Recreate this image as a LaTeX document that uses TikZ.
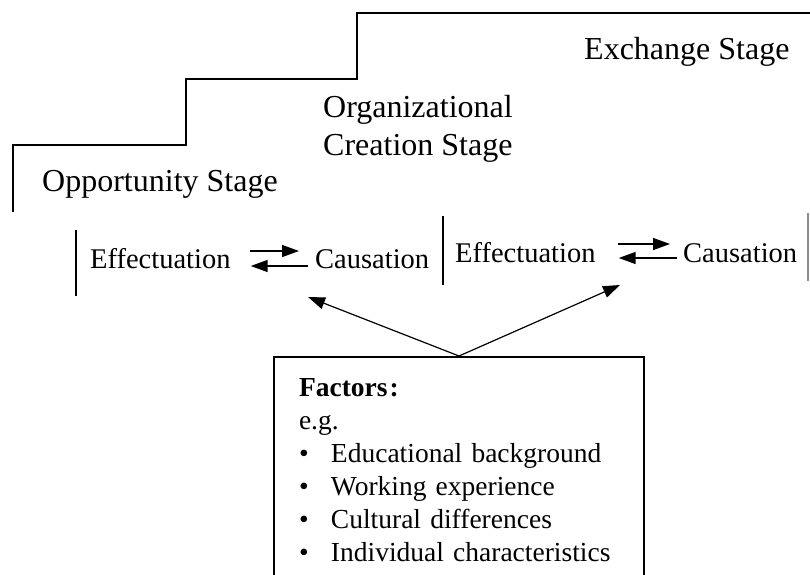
\documentclass[tikz,border=0pt]{standalone}
\usepackage{fontspec}
\setmainfont{Liberation Serif}
\usetikzlibrary{arrows.meta}

\begin{document}
\begin{tikzpicture}[x=1pt, y=-1pt, >={Triangle[length=17pt, width=12pt]},
  stagetext/.style={inner sep=0pt, align=left,
    font=\fontsize{32}{38}\selectfont},
  rowtext/.style={inner sep=0pt, anchor=base west,
    font=\fontsize{28.5}{34}\selectfont},
  swap/.style={->, line width=1.5pt},
  push/.style={->, line width=1.2pt}]
  \useasboundingbox (0,0) rectangle (810,574);
  % Staircase of stages
  \draw[line width=2.5pt] (13,212) -- (13,145) -- (186,145) -- (186,79)
    -- (357,79) -- (357,13) -- (812,13);
  \node[stagetext, anchor=base west] (opp) at (42,191) {Opportunity Stage};
  \node[stagetext, anchor=north west] (org) at (323,95)
    {Organizational\\Creation Stage};
  \node[stagetext, anchor=base west] (exc) at (584,59) {Exchange Stage};
  % Separators
  \draw[line width=2pt] (76,230) -- (76,296);
  \draw[line width=2pt] (443,216) -- (443,285);
  \draw[line width=1.5pt, black!45] (808,213) -- (808,281);
  % Effectuation / causation pairs
  \node[rowtext] (eff1) at (90,268) {Effectuation};
  \node[rowtext] (cau1) at (315,268) {Causation};
  \node[rowtext] (eff2) at (455,262) {Effectuation};
  \node[rowtext] (cau2) at (683,262) {Causation};
  \draw[swap, shorten <=19pt, shorten >=16pt]
    ([yshift=17pt]eff1.base east) -- ([yshift=17pt]cau1.base west);
  \draw[swap, shorten <=7pt, shorten >=20pt]
    ([yshift=2pt]cau1.base west) -- ([yshift=2pt]eff1.base east);
  \draw[swap, shorten <=22pt, shorten >=13pt]
    ([yshift=18pt]eff2.base east) -- ([yshift=18pt]cau2.base west);
  \draw[swap, shorten <=6pt, shorten >=23pt]
    ([yshift=4pt]cau2.base west) -- ([yshift=4pt]eff2.base east);
  % Factors box
  \node[draw, line width=2pt, anchor=north west, inner xsep=25pt,
    inner ysep=17pt, text width=320pt, align=left,
    font=\fontsize{27.5}{33}\selectfont]
    (factors) at (273,356)
    {\rule{0pt}{22pt}\textbf{Factors\kern2pt:}\\
     e.g.\\
     \makebox[32pt][l]{\textbullet}Educational background\\
     \makebox[32pt][l]{\textbullet}Working experience\\
     \makebox[32pt][l]{\textbullet}Cultural differences\\
     \makebox[32pt][l]{\textbullet}Individual characteristics};
  \coordinate (tip1) at (308,297);
  \coordinate (tip2) at (620,285);
  \draw[push] (factors.north) -- (tip1);
  \draw[push] (factors.north) -- (tip2);
\end{tikzpicture}
\end{document}
